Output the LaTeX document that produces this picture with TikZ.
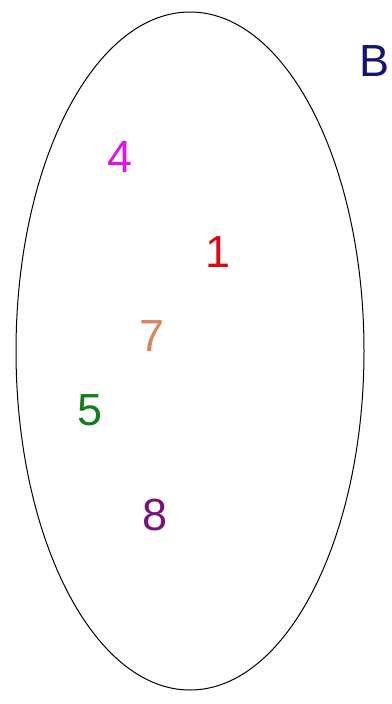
\documentclass[tikz,border=0pt]{standalone}
\usepackage{fontspec}
\setmainfont{Liberation Sans}
\usepackage{tikz}

\definecolor{setblue}{RGB}{20,20,120}
\definecolor{elmagenta}{RGB}{225,20,225}
\definecolor{elred}{RGB}{215,10,20}
\definecolor{elorange}{RGB}{215,135,95}
\definecolor{elgreen}{RGB}{20,125,30}
\definecolor{elpurple}{RGB}{120,20,120}

\begin{document}
\begin{tikzpicture}[x=1pt, y=-1pt, every node/.style={font=\fontsize{45}{54}\selectfont, inner sep=0pt}]
	\useasboundingbox (0,0) rectangle (391,704);
	\draw[black, line width=1pt] (190,351) ellipse [x radius=174, y radius=339];
	\node[setblue] (setB) at (375,61) {B};
	\node[elmagenta] (el4) at (120,157) {4};
	\node[elred] (el1) at (218,252) {1};
	\node[elorange] (el7) at (152,336) {7};
	\node[elgreen] (el5) at (90,410) {5};
	\node[elpurple] (el8) at (155,515) {8};
\end{tikzpicture}
\end{document}
